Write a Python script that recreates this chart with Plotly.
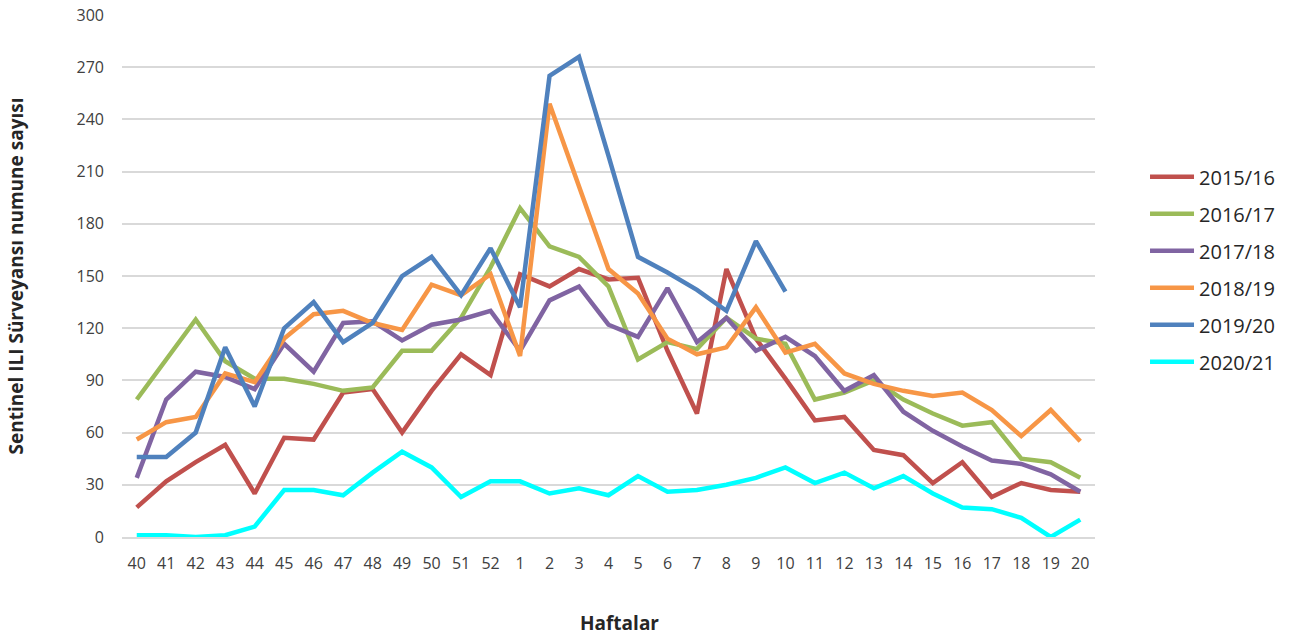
import plotly.graph_objects as go

weeks = ["40", "41", "42", "43", "44", "45", "46", "47", "48", "49", "50", "51", "52",
         "1", "2", "3", "4", "5", "6", "7", "8", "9", "10", "11", "12", "13", "14",
         "15", "16", "17", "18", "19", "20"]

s2015_16 = [17, 32, 43, 53, 25, 57, 56, 83, 85, 60, 84, 105, 93, 151, 144, 154, 148,
            149, 107, 71, 154, 114, 91, 67, 69, 50, 47, 31, 43, 23, 31, 27, 26]
s2016_17 = [79, 102, 125, 101, 91, 91, 88, 84, 86, 107, 107, 126, 155, 189, 167, 161, 144,
            102, 112, 108, 126, 114, 111, 79, 83, 90, 79, 71, 64, 66, 45, 43, 34]
s2017_18 = [34, 79, 95, 92, 85, 111, 95, 123, 124, 113, 122, 125, 130, 107, 136, 144, 122,
            115, 143, 112, 126, 107, 115, 104, 84, 93, 72, 61, 52, 44, 42, 36, 26]
s2018_19 = [56, 66, 69, 94, 89, 114, 128, 130, 123, 119, 145, 139, 151, 104, 249, 201, 154,
            140, 114, 105, 109, 132, 106, 111, 94, 88, 84, 81, 83, 73, 58, 73, 55]
s2019_20 = [46, 46, 60, 109, 75, 120, 135, 112, 123, 150, 161, 139, 166, 132, 265, 276, 219,
            161, 152, 142, 130, 170, 141]
s2020_21 = [1, 1, 0, 1, 6, 27, 27, 24, 37, 49, 40, 23, 32, 32, 25, 28, 24,
            35, 26, 27, 30, 34, 40, 31, 37, 28, 35, 25, 17, 16, 11, 0, 10]

seasons = ["2015/16", "2016/17", "2017/18", "2018/19", "2019/20", "2020/21"]
values = [s2015_16, s2016_17, s2017_18, s2018_19, s2019_20, s2020_21]
colors = ["#C0504D", "#9BBB59", "#8064A2", "#F79646", "#4F81BD", "#00FFFF"]

fig = go.Figure()
for name, vals, col in zip(seasons, values, colors):
    fig.add_trace(go.Scatter(
        x=weeks[:len(vals)], y=vals, name=name, mode="lines",
        line=dict(color=col, width=4.5), legendgroup=name,
    ))

fig.update_layout(
    width=1301, height=637,
    margin=dict(l=122, r=206, t=15, b=100),
    paper_bgcolor="white", plot_bgcolor="white",
    font=dict(family="Open Sans, sans-serif", color="#595959"),
    showlegend=True,
    legend=dict(
        x=1.0514, y=0.7275, xanchor="left", yanchor="top",
        font=dict(size=20, color="#262626"),
        itemwidth=44,
        tracegroupgap=8, bgcolor="rgba(0,0,0,0)",
    ),
    xaxis=dict(
        type="category", categoryorder="array", categoryarray=weeks,
        range=[-0.5, len(weeks) - 0.5], automargin=False,
        showgrid=False, showline=True, linecolor="#d9d9d9", linewidth=1.5,
        ticks="", tickfont=dict(size=16, color="#404040"), ticklabelstandoff=11,
    ),
    yaxis=dict(
        range=[0, 300], tickvals=list(range(0, 301, 30)), automargin=False,
        showgrid=True, gridcolor="#d9d9d9", gridwidth=1.5,
        zeroline=False, showline=False, ticks="",
        tickfont=dict(size=16, color="#404040"), ticklabelstandoff=17,
        title=dict(text="<b>Sentinel ILI Sürveyansı numune sayısı</b>",
                   font=dict(size=19, color="#262626"), standoff=47),
    ),
    annotations=[dict(
        text="<b>Haftalar</b>", xref="paper", yref="paper",
        x=0.5108, y=-0.165, xanchor="center", yanchor="middle",
        showarrow=False, font=dict(size=19, color="#262626"),
    )],
)

fig.write_html("out.html")
